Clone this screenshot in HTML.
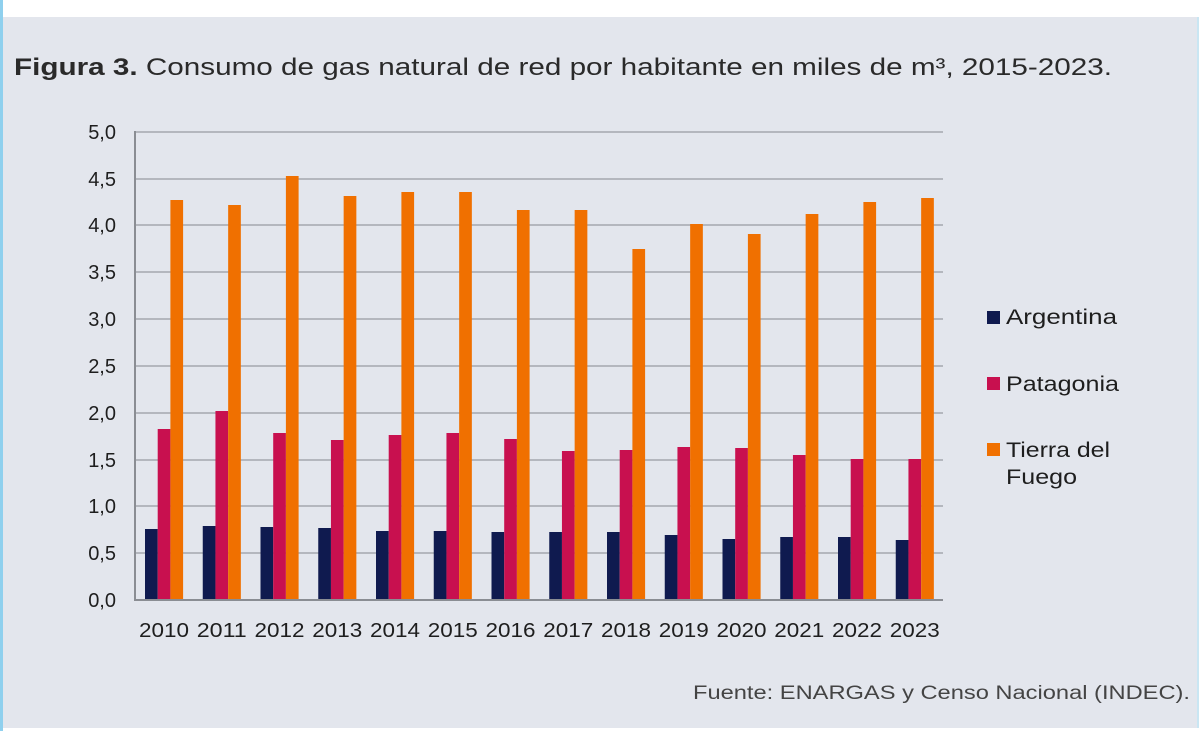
<!DOCTYPE html>
<html><head><meta charset="utf-8"><style>
html,body{margin:0;padding:0;width:1200px;height:731px;overflow:hidden;background:#fff}
svg{display:block}
text{font-family:"Liberation Sans",sans-serif}
</style></head><body>
<svg width="1200" height="731" xmlns="http://www.w3.org/2000/svg">
<rect x="0" y="0" width="1200" height="731" fill="#ffffff"/>
<rect x="0" y="17" width="1198" height="711" fill="#e3e6ed"/>
<rect x="0" y="0" width="3" height="731" fill="#8fd0ee"/>
<rect x="1197" y="17" width="2" height="711" fill="#c9e6f3"/>
<text x="14" y="75" font-size="24" fill="#2a2a2a" textLength="1098" lengthAdjust="spacingAndGlyphs"><tspan font-weight="bold">Figura 3.</tspan> Consumo de gas natural de red por habitante en miles de m³, 2015-2023.</text>
<g stroke="#b4b7be" stroke-width="2">
<line x1="135" y1="132" x2="943" y2="132"/><line x1="135" y1="179" x2="943" y2="179"/><line x1="135" y1="225" x2="943" y2="225"/><line x1="135" y1="272" x2="943" y2="272"/><line x1="135" y1="319" x2="943" y2="319"/><line x1="135" y1="366" x2="943" y2="366"/><line x1="135" y1="413" x2="943" y2="413"/><line x1="135" y1="460" x2="943" y2="460"/><line x1="135" y1="506" x2="943" y2="506"/><line x1="135" y1="553" x2="943" y2="553"/>
</g>
<line x1="135" y1="131" x2="135" y2="601" stroke="#8a8d93" stroke-width="2"/>
<g font-size="20" fill="#1e1e1e" text-anchor="end">
<text x="116" y="139">5,0</text><text x="116" y="186">4,5</text><text x="116" y="232">4,0</text><text x="116" y="279">3,5</text><text x="116" y="326">3,0</text><text x="116" y="373">2,5</text><text x="116" y="420">2,0</text><text x="116" y="467">1,5</text><text x="116" y="513">1,0</text><text x="116" y="560">0,5</text><text x="116" y="607">0,0</text>
</g>
<g id="bars"></g>
<line x1="135" y1="600" x2="943" y2="600" stroke="#8a8d93" stroke-width="2"/>
<g font-size="20" fill="#1e1e1e" id="years"></g>
<rect x="987" y="311" width="13" height="13" fill="#0f1a4f"/>
<text x="1006" y="324" font-size="21" fill="#1e1e1e" textLength="111" lengthAdjust="spacingAndGlyphs">Argentina</text>
<rect x="987" y="377" width="13" height="13" fill="#c8104f"/>
<text x="1006" y="391" font-size="21" fill="#1e1e1e" textLength="113" lengthAdjust="spacingAndGlyphs">Patagonia</text>
<rect x="987" y="443" width="13" height="13" fill="#f07000"/>
<text x="1006" y="457" font-size="21" fill="#1e1e1e" textLength="104" lengthAdjust="spacingAndGlyphs">Tierra del</text>
<text x="1006" y="484" font-size="21" fill="#1e1e1e" textLength="71" lengthAdjust="spacingAndGlyphs">Fuego</text>
<text x="693" y="699" font-size="19" fill="#444" textLength="497" lengthAdjust="spacingAndGlyphs">Fuente: ENARGAS y Censo Nacional (INDEC).</text>
<script>
var nav=[529,526,527,528,531,531,532,532,532,535,539,537,537,540];
var pink=[429,411,433,440,435,433,439,451,450,447,448,455,459,459];
var org=[200,205,176,196,192,192,210,210,249,224,234,214,202,198];
var g=document.getElementById('bars'),y=document.getElementById('years'),ns='http://www.w3.org/2000/svg';
function r(x,t,c){var e=document.createElementNS(ns,'rect');e.setAttribute('x',x);e.setAttribute('y',t);e.setAttribute('width',12.7);e.setAttribute('height',600-t);e.setAttribute('fill',c);g.appendChild(e);}
for(var i=0;i<14;i++){var x=145+i*57.75;r(x,nav[i],'#0f1a4f');r(x+12.7,pink[i],'#c8104f');r(x+25.4,org[i],'#f07000');
var t=document.createElementNS(ns,'text');t.setAttribute('x',x+19-25);t.setAttribute('y',637);t.setAttribute('textLength',50);t.setAttribute('lengthAdjust','spacingAndGlyphs');t.textContent=2010+i;y.appendChild(t);}
</script>
</svg>
</body></html>
